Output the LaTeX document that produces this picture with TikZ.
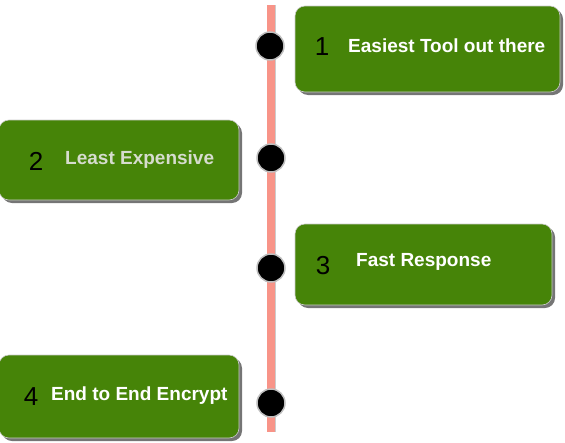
\documentclass[tikz,border=0pt]{standalone}
\usepackage{fontspec}
\setmainfont{Liberation Sans}
\usetikzlibrary{shadows}
\definecolor{leafgreen}{RGB}{70,132,8}
\definecolor{salmonline}{RGB}{248,148,136}
\definecolor{palegray}{RGB}{214,220,206}

\begin{document}
\begin{tikzpicture}[x=1pt, y=-1pt]
\tikzstyle{card}=[rectangle, rounded corners=10pt, fill=leafgreen, draw=black!20, line width=0.6pt, drop shadow={shadow xshift=3pt, shadow yshift=-3pt, fill=black!60, opacity=0.9}]
\tikzstyle{num}=[font=\fontsize{26}{29}\selectfont, text=black, inner sep=0pt]
\tikzstyle{label}=[font=\fontsize{19}{22}\selectfont\bfseries, text=white, anchor=west, inner sep=0pt]
\tikzstyle{dot}=[circle, minimum size=28pt, inner sep=0pt, fill=black, draw=black!25, line width=1.5pt]
\tikzstyle{spine}=[draw=black!20, double=salmonline, double distance=8pt, line width=0.5pt]
\useasboundingbox (0,0) rectangle (565,442);
  % timeline
  \coordinate (top) at (271,5);
  \coordinate (bottom) at (271,432);
  \draw[spine] (top) -- (bottom);
  % cards
  \node[card, minimum width=265pt, minimum height=86pt] (card1) at (427.5,49) {};
  \node[card, minimum width=240pt, minimum height=80pt] (card2) at (119,160) {};
  \node[card, minimum width=257pt, minimum height=81pt] (card3) at (423.5,264.5) {};
  \node[card, minimum width=240pt, minimum height=83pt] (card4) at (119,396.5) {};
  % numbers and texts
  \node[num] (n1) at (322,47) {1};
  \node[label] (t1) at (348,46) {Easiest Tool out there};
  \node[num] (n2) at (36,161) {2};
  \node[label, text=palegray] (t2) at (65,160) {Least Expensive};
  \node[num] (n3) at (323,266) {3};
  \node[label] (t3) at (356,262) {Fast Response};
  \node[num] (n4) at (31,397) {4};
  \node[label] (t4) at (51,396) {End to End Encrypt};
  % dots
  \node[dot] (d1) at (270,46) {};
  \node[dot] (d2) at (271,158) {};
  \node[dot] (d3) at (271,268) {};
  \node[dot] (d4) at (271,403) {};
\end{tikzpicture}
\end{document}
